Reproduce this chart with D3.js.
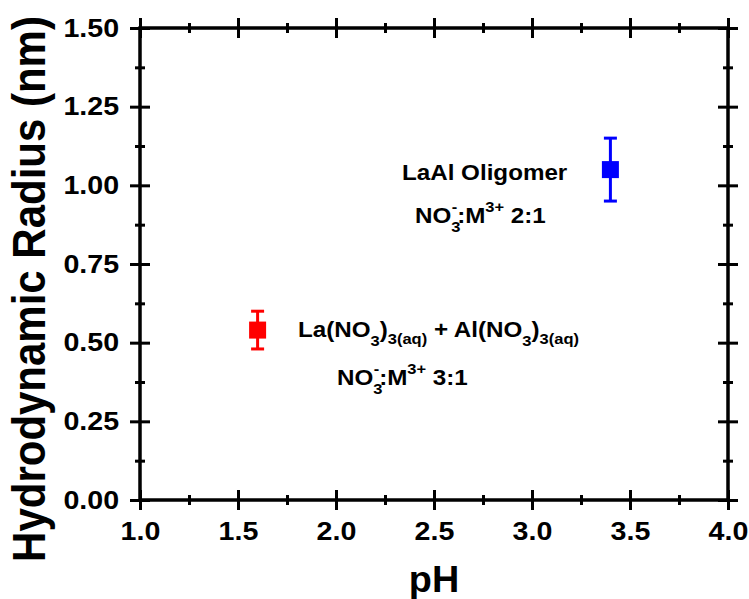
<!DOCTYPE html>
<html>
<head>
<meta charset="utf-8">
<script src="https://cdn.jsdelivr.net/npm/d3@7"></script>
<style>
  body { margin: 0; background: #fff; }
  text { font-family: "Liberation Sans", Arial, sans-serif; font-weight: bold; }
</style>
</head>
<body>
<div id="chart"></div>
<script>
// data
const phValues = [1.6, 3.4];
const radiusValues = [0.54, 1.05];
const radiusErrors = [0.06, 0.10];
const pointColors = ["#ff0000", "#0000ff"];
const xTicks = [1.0, 1.5, 2.0, 2.5, 3.0, 3.5, 4.0];
const yTicks = [0.00, 0.25, 0.50, 0.75, 1.00, 1.25, 1.50];

const W = 749, H = 599;
const pLeft = 140, pRight = 728, pTop = 28, pBottom = 500;
const stretch = 1.1; // the source text is a bit wide

const svg = d3.select("#chart")
    .append("svg")
    .attr("width", W)
    .attr("height", H);

const x = d3.scaleLinear().domain([1, 4]).range([pLeft, pRight]);
const y = d3.scaleLinear().domain([0, 1.5]).range([pBottom, pTop]);

// minor ticks halfway between majors
const xMinor = d3.range(1.25, 4, 0.5);
const yMinor = d3.range(0.125, 1.5, 0.25);

function drawAxis(axisGen, transform, labels) {
    const g = svg.append("g").attr("transform", transform).call(axisGen);
    g.select(".domain").remove();
    g.selectAll("line").attr("stroke", "#000").attr("stroke-width", 3);
    g.selectAll("text").attr("fill", "#000").style("font-size", "26px")
        .attr("transform", `scale(${stretch},1)`);
    if (!labels) g.selectAll("text").remove();
    return g;
}

// ticks cross the axis: draw outward + inward
const major = 10, minorLen = 5;
// bottom
drawAxis(d3.axisBottom(x).tickValues(xTicks).tickFormat(d3.format(".1f")).tickSize(major).tickPadding(12), `translate(0,${pBottom})`, true);
drawAxis(d3.axisTop(x).tickValues(xTicks).tickSize(major), `translate(0,${pBottom})`, false);
drawAxis(d3.axisTop(x).tickValues(xMinor).tickSize(minorLen), `translate(0,${pBottom})`, false);
drawAxis(d3.axisBottom(x).tickValues(xMinor).tickSize(minorLen), `translate(0,${pBottom})`, false);
// top
drawAxis(d3.axisTop(x).tickValues(xTicks).tickSize(major), `translate(0,${pTop})`, false);
drawAxis(d3.axisBottom(x).tickValues(xTicks).tickSize(major), `translate(0,${pTop})`, false);
drawAxis(d3.axisBottom(x).tickValues(xMinor).tickSize(minorLen), `translate(0,${pTop})`, false);
drawAxis(d3.axisTop(x).tickValues(xMinor).tickSize(minorLen), `translate(0,${pTop})`, false);
// left
drawAxis(d3.axisLeft(y).tickValues(yTicks).tickFormat(d3.format(".2f")).tickSize(major).tickPadding(9), `translate(${pLeft},0)`, true);
drawAxis(d3.axisRight(y).tickValues(yTicks).tickSize(major), `translate(${pLeft},0)`, false);
drawAxis(d3.axisRight(y).tickValues(yMinor).tickSize(minorLen), `translate(${pLeft},0)`, false);
drawAxis(d3.axisLeft(y).tickValues(yMinor).tickSize(minorLen), `translate(${pLeft},0)`, false);
// right
drawAxis(d3.axisRight(y).tickValues(yTicks).tickSize(major), `translate(${pRight},0)`, false);
drawAxis(d3.axisLeft(y).tickValues(yTicks).tickSize(major), `translate(${pRight},0)`, false);
drawAxis(d3.axisLeft(y).tickValues(yMinor).tickSize(minorLen), `translate(${pRight},0)`, false);
drawAxis(d3.axisRight(y).tickValues(yMinor).tickSize(minorLen), `translate(${pRight},0)`, false);

// frame
svg.append("rect")
    .attr("x", pLeft).attr("y", pTop)
    .attr("width", pRight - pLeft).attr("height", pBottom - pTop)
    .attr("fill", "none").attr("stroke", "#000").attr("stroke-width", 3.5);

// axis titles
svg.append("text")
    .attr("transform", `translate(434,592) scale(1.05,1)`)
    .attr("text-anchor", "middle")
    .style("font-size", "36px")
    .text("pH");

svg.append("text")
    .attr("transform", `translate(45,289) scale(${stretch},1) rotate(-90)`)
    .attr("text-anchor", "middle")
    .style("font-size", "42px")
    .text("Hydrodynamic Radius (nm)");

// error bars
const pts = phValues.map((p, i) => ({ p, r: radiusValues[i], e: radiusErrors[i], c: pointColors[i] }));
const cap = 6.5;

const eb = svg.append("g").selectAll("g").data(pts).enter().append("g")
    .attr("stroke", d => d.c).attr("stroke-width", 3);
eb.append("line")
    .attr("x1", d => x(d.p)).attr("x2", d => x(d.p))
    .attr("y1", d => y(d.r + d.e)).attr("y2", d => y(d.r - d.e));
eb.append("line")
    .attr("x1", d => x(d.p) - cap).attr("x2", d => x(d.p) + cap)
    .attr("y1", d => y(d.r + d.e)).attr("y2", d => y(d.r + d.e));
eb.append("line")
    .attr("x1", d => x(d.p) - cap).attr("x2", d => x(d.p) + cap)
    .attr("y1", d => y(d.r - d.e)).attr("y2", d => y(d.r - d.e));

// square markers
const sq = 17;
svg.append("g").selectAll("rect").data(pts).enter().append("rect")
    .attr("x", d => x(d.p) - sq / 2)
    .attr("y", d => y(d.r) - sq / 2)
    .attr("width", sq).attr("height", sq)
    .attr("fill", d => d.c);

// annotations
const fs = 22, sub = 15;

function label(xp, yp) {
    return svg.append("text")
        .attr("transform", `translate(${xp},${yp}) scale(${stretch},1)`)
        .style("font-size", fs + "px");
}

function ratioLabel(xp, yp, ratio) {
    const t = label(xp, yp);
    t.append("tspan").text("NO");
    t.append("tspan").text("3").style("font-size", sub + "px").attr("dy", 9);
    t.append("tspan").text("-").style("font-size", sub + "px").attr("dx", -8).attr("dy", -20);
    t.append("tspan").text(":M").attr("dy", 11);
    t.append("tspan").text("3+").style("font-size", sub + "px").attr("dy", -11);
    t.append("tspan").text(" " + ratio).attr("dy", 11);
}

// red label
const r = label(298, 337);
r.append("tspan").text("La(NO");
r.append("tspan").text("3").style("font-size", sub + "px").attr("dy", 9);
r.append("tspan").text(")").attr("dy", -9);
r.append("tspan").text("3(aq)").style("font-size", sub + "px").attr("dy", 7);
r.append("tspan").text(" + Al(NO").attr("dy", -7);
r.append("tspan").text("3").style("font-size", sub + "px").attr("dy", 9);
r.append("tspan").text(")").attr("dy", -9);
r.append("tspan").text("3(aq)").style("font-size", sub + "px").attr("dy", 7);
ratioLabel(337, 385, "3:1");

// blue label
label(402, 180).text("LaAl Oligomer");
ratioLabel(415, 223, "2:1");
</script>
</body>
</html>
